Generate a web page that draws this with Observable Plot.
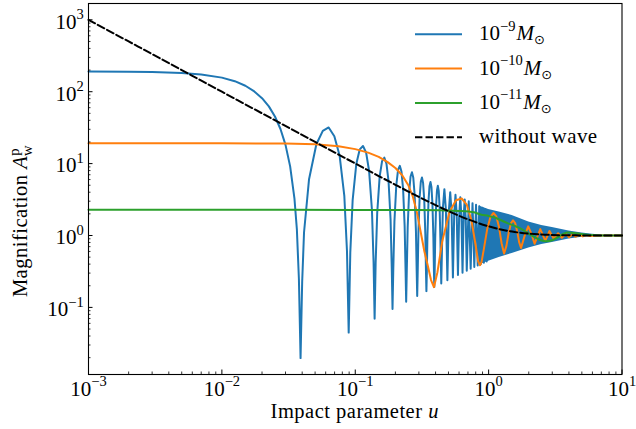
<!DOCTYPE html>
<html><head><meta charset="utf-8">
<script src="https://cdn.jsdelivr.net/npm/d3@7"></script>
<script src="https://cdn.jsdelivr.net/npm/@observablehq/plot@0.6"></script>
<style>
html,body{margin:0;padding:0;background:#fff;}
#chart{width:636px;height:429px;overflow:hidden;}
</style></head><body><div id="chart"></div>
<script>
// ---------- ticks / labels ----------
const xTicks = [1e-3, 1e-2, 1e-1, 1, 10];
const xTickLabels = ["10^\u22123", "10^\u22122", "10^\u22121", "10^0", "10^1"];
const yTicks = [1e-1, 1, 10, 100, 1000];
const yTickLabels = ["10^\u22121", "10^0", "10^1", "10^2", "10^3"];
const seriesNames = ["\u22129", "\u221210", "\u221211"];   // exponents of 10 for lens mass
const seriesColors = ["#1f77b4", "#ff7f0e", "#2ca02c"];

// ---------- 10^-9 Msun (blue) ----------
const blueU = [0.001,0.002,0.003,0.005,0.007,0.01,0.0125,0.015,0.0175,0.02,0.0225,0.025,0.0275,0.03,0.0325,0.035,0.0365,0.0378,0.0389,
 0.0400,0.0413,0.0450,0.0511,0.0571,0.0632,
 0.0697,0.0763,0.0828,0.0867,0.0893,
 0.0918,0.0956,0.1018,0.1081,0.1143,
 0.1207,0.1270,0.1334,0.1372,0.1397,
 0.1422,0.1461,0.1524,0.1588,0.1651,
 0.1714,0.1777,0.1840,0.1878,0.1903,
 0.1929,0.1967,0.2031,0.2094,0.2158,
 0.2221,0.2284,0.2346,0.2384,0.2409,
 0.2434,0.2472,0.2535,0.2598,0.2661,
 0.2724,0.2788,0.2851,0.2889,0.2914,
 0.2939,0.2976,0.3039,0.3101,0.3163,
 0.3226,0.3290,0.3353,0.3391,0.3416,
 0.3441,0.3478,0.3541,0.3603,0.3665,
 0.3728,0.3790,0.3853,0.3890,0.3915,
 0.3940,0.3977,0.4039,0.4101,0.4163,
 0.4226,0.4289,0.4351,0.4414,
 0.4537,0.4659,0.4783,0.4907,0.5030,0.5153,0.5276,0.5398,0.5521,0.5643,0.5766,0.5889,0.6011,0.6132,0.6253,0.6373,0.6494,0.6615,0.6736,0.6856,
 0.7096,0.7334,0.7572,0.7809,0.8047,0.8282,0.8515,0.8751,0.8982,0.9212,0.9440,0.9670];
const blueA = [191,190,188,182,174,157,140,121,101,81.4,62.5,45.2,30.3,18.2,9.16,3.28,1.22,0.25,0.0197,
 0.226,1.1,6.0,18.6,28.5,31.8,
 24.0,13.0,3.57,0.608,0.0446,
 0.578,3.10,9.85,15.8,17.6,
 14.15,7.91,2.26,0.426,0.0698,
 0.413,2.06,6.60,10.76,12.1,
 9.98,5.68,1.67,0.354,0.0947,
 0.348,1.58,5.00,8.21,9.32,
 7.75,4.46,1.36,0.324,0.1196,
 0.319,1.29,4.02,6.62,7.58,
 6.35,3.69,1.16,0.311,0.1442,
 0.309,1.12,3.39,5.59,6.40,
 5.38,3.17,1.03,0.311,0.1684,
 0.309,1.00,2.97,4.86,5.55,
 4.69,2.79,0.94,0.316,0.1921,
 0.315,0.918,2.63,4.28,4.91,
 4.16,2.49,0.87,0.2155,
 2.37,4.41,2.27,0.2383,2.17,4.01,2.09,0.2606,2.01,3.68,1.94,0.2825,1.87,3.41,1.83,0.3036,1.77,3.18,1.73,0.3243,
 2.99,0.3443,2.82,0.3637,2.68,0.3826,2.55,0.4008,2.44,0.4184,2.34,0.4353];
// dense oscillation band of the blue curve (envelope)
const bandU    = [0.85, 1.0, 1.2, 1.5, 2.0, 2.5, 3.0, 4.0, 5.0, 6.0, 7.0, 8.5, 10];
const bandLow  = [0.39, 0.44, 0.494, 0.562, 0.67, 0.75, 0.80, 0.894, 0.944, 0.968, 0.984, 0.993, 0.997];
const bandHigh = [2.58, 2.30, 2.12, 1.90, 1.54, 1.377, 1.29, 1.155, 1.083, 1.039, 1.016, 1.007, 1.003];

// ---------- 10^-10 Msun (orange) ----------
const orangeU = [0.001,0.01,0.03,0.05,0.075,0.1,0.125,0.15,0.175,0.2,0.225,0.25,0.27,0.29,0.31,0.33,0.35,0.37,0.389,
 0.413,0.449,0.509,0.569,0.628,
 0.6857,0.743,0.8002,0.8345,0.862,
 0.8846,0.9185,0.975,1.0315,1.088,
 1.1423,1.1965,1.2508,1.305,
 1.3598,1.4145,1.4693,1.524,
 1.5805,1.637,1.6935,1.75,
 1.865,1.98,2.095,2.21,
 2.44,2.66,2.86,3.08,3.32,3.54,3.79,4.01,4.25,4.50,4.78,5.08,5.40,5.73,6.93,10];
const orangeA = [19.2,19.2,19.0,18.6,17.4,15.9,14.2,12.4,10.5,8.7,6.9,5.0,3.5,2.1,1.1,0.6,0.38,0.24,0.191,
 0.307,0.83,2.12,3.1,3.27,
 2.69,1.63,0.72,0.437,0.386,
 0.427,0.631,1.22,1.81,2.06,
 1.84,1.31,0.78,0.56,
 0.717,1.095,1.473,1.63,
 1.49,1.15,0.81,0.67,
 1.005,1.34,1.05,0.767,
 1.227,0.839,1.155,0.90,1.076,0.929,1.056,0.947,1.033,0.962,1.023,0.972,1.017,0.981,1.0,1.0];

// ---------- 10^-11 Msun (green) ----------
const greenU = [0.001,0.01,0.1,0.3,0.437,0.6,0.777,0.87,1.0,1.098,1.2,1.384,1.55,1.741,1.95,2.19,2.46,2.68,3.03,3.36,3.65,3.95,4.4,4.91,5.5,6.14,7.5,10];
const greenA = [2.277,2.277,2.27,2.26,2.24,2.2,2.1,1.96,1.87,1.79,1.67,1.49,1.37,1.25,1.09,0.96,0.86,0.83,0.865,0.965,1.06,1.10,1.08,1.05,1.025,1.013,1.0,1.0];

// ---------- without wave (dashed) ----------
const geomU = [0.001,0.002,0.005,0.01,0.02,0.05,0.1,0.15,0.2,0.25,0.3,0.4,0.5,0.7,0.85,1.0,1.2,1.5,2,2.5,3,4,5,7,10];
const geomA = [1000,500,200,100,50,20.02,10.04,6.72,5.075,4.09,3.445,2.648,2.183,1.679,1.474,1.342,1.229,1.133,1.061,1.031,1.017,1.006,1.003,1.001,1.0];

// ---------- layout ----------
const W = 636, H = 429;
const mL = 88, mR = 14.5, mT = 3, mB = 55;
const plotW = W - mL - mR, plotH = H - mT - mB;
const yMin = 0.01166, yMax = 1686;
const FONT = "'Liberation Serif', 'Times New Roman', serif";

const xMinor = [], yMinor = [];
for (const d of [1e-3, 1e-2, 1e-1, 1]) for (let k = 2; k <= 9; k++) xMinor.push(k * d);
for (const d of [1e-2, 1e-1, 1, 10, 100, 1000]) for (let k = 2; k <= 9; k++) { const v = k * d; if (v > yMin && v < yMax) yMinor.push(v); }

const zipUA = (U, A) => U.map((u, i) => ({u, a: A[i]}));
const band = bandU.map((u, i) => ({u, lo: bandLow[i], hi: bandHigh[i]}));

const chart = Plot.plot({
  width: W, height: H,
  marginLeft: mL, marginRight: mR, marginTop: mT, marginBottom: mB,
  style: {fontFamily: FONT, fontSize: "21px", background: "white", color: "black"},
  x: {type: "log", domain: [1e-3, 10], axis: null},
  y: {type: "log", domain: [yMin, yMax], axis: null},
  marks: [
    Plot.areaY(band, {x: "u", y1: "lo", y2: "hi", fill: seriesColors[0]}),
    Plot.line(zipUA(blueU, blueA), {x: "u", y: "a", stroke: seriesColors[0], strokeWidth: 2}),
    Plot.line(zipUA(orangeU, orangeA), {x: "u", y: "a", stroke: seriesColors[1], strokeWidth: 2}),
    Plot.line(zipUA(greenU, greenA), {x: "u", y: "a", stroke: seriesColors[2], strokeWidth: 2, curve: "monotone-x"}),
    Plot.line(zipUA(geomU, geomA), {x: "u", y: "a", stroke: "black", strokeWidth: 2, strokeDasharray: "7.4,3.1", curve: "monotone-x"}),
    Plot.tickX(xTicks, {x: d => d, insetTop: plotH - 4.5, stroke: "black", strokeWidth: 1}),
    Plot.tickX(xMinor, {x: d => d, insetTop: plotH - 2.5, stroke: "black", strokeWidth: 0.8}),
    Plot.tickY(yTicks, {y: d => d, insetRight: plotW - 4.5, stroke: "black", strokeWidth: 1}),
    Plot.tickY(yMinor, {y: d => d, insetRight: plotW - 2.5, stroke: "black", strokeWidth: 0.8}),
    Plot.frame({stroke: "black", strokeWidth: 1.1}),
    Plot.text(xTicks, {x: d => d, text: (d, i) => xTickLabels[i], frameAnchor: "bottom", lineAnchor: "bottom", dy: 21, textAnchor: "middle", fontSize: 21, fill: "black"}),
    Plot.text(yTicks, {y: d => d, text: (d, i) => yTickLabels[i], frameAnchor: "left", lineAnchor: "bottom", dx: -4.7, dy: 8.8, textAnchor: "end", fontSize: 21, fill: "black"})
  ]
});
document.getElementById("chart").appendChild(chart);

const svg = d3.select(chart);
// superscripts in tick labels
svg.selectAll("text").each(function () {
  const s = this.textContent;
  if (!s.includes("^")) return;
  const [b, e] = s.split("^");
  const t = d3.select(this);
  t.text(b);
  t.append("tspan").attr("dy", -9.5).attr("font-size", 14.5).text(e);
});

const g = svg.append("g").attr("font-family", FONT).attr("font-size", 21).attr("fill", "black").attr("text-anchor", "start");
// x label
const xl = g.append("text").attr("x", mL + plotW / 2).attr("y", 418).attr("text-anchor", "middle")
  .attr("font-size", 20.5).attr("letter-spacing", 0.5);
xl.append("tspan").text("Impact parameter ");
xl.append("tspan").attr("font-style", "italic").text("u");
// y label
const yl = g.append("text").attr("transform", "translate(27,221) rotate(-90)").attr("text-anchor", "middle")
  .attr("font-size", 20.5).attr("letter-spacing", 0.5);
yl.append("tspan").text("Magnification ");
yl.append("tspan").attr("font-style", "italic").text("A");
yl.append("tspan").attr("font-size", 14.5).attr("dy", -8).text("p");
yl.append("tspan").attr("font-size", 14.5).attr("dx", -7.8).attr("dy", 12.5).text("w");

// legend
const rowY = [34.3, 68.6, 102.9, 137.2];
seriesNames.forEach((e, i) => {
  g.append("line").attr("x1", 415).attr("x2", 462).attr("y1", rowY[i]).attr("y2", rowY[i])
    .attr("stroke", seriesColors[i]).attr("stroke-width", 2);
  const t = g.append("text").attr("x", 479).attr("y", rowY[i] + 6).attr("text-anchor", "start");
  t.append("tspan").text("10");
  t.append("tspan").attr("font-size", 14.5).attr("dy", -9.5).text(e);
  t.append("tspan").attr("font-style", "italic").attr("dy", 9.5).attr("dx", 1).text("M");
  t.append("tspan").attr("font-size", 13).attr("dy", 4).attr("font-family", "'DejaVu Sans', sans-serif").text("\u2299");
});
g.append("line").attr("x1", 415).attr("x2", 462).attr("y1", rowY[3]).attr("y2", rowY[3])
  .attr("stroke", "black").attr("stroke-width", 2).attr("stroke-dasharray", "7.4,3.1");
g.append("text").attr("x", 479).attr("y", rowY[3] + 6).attr("text-anchor", "start").attr("letter-spacing", 0.4).text("without wave");
</script>
</body></html>
